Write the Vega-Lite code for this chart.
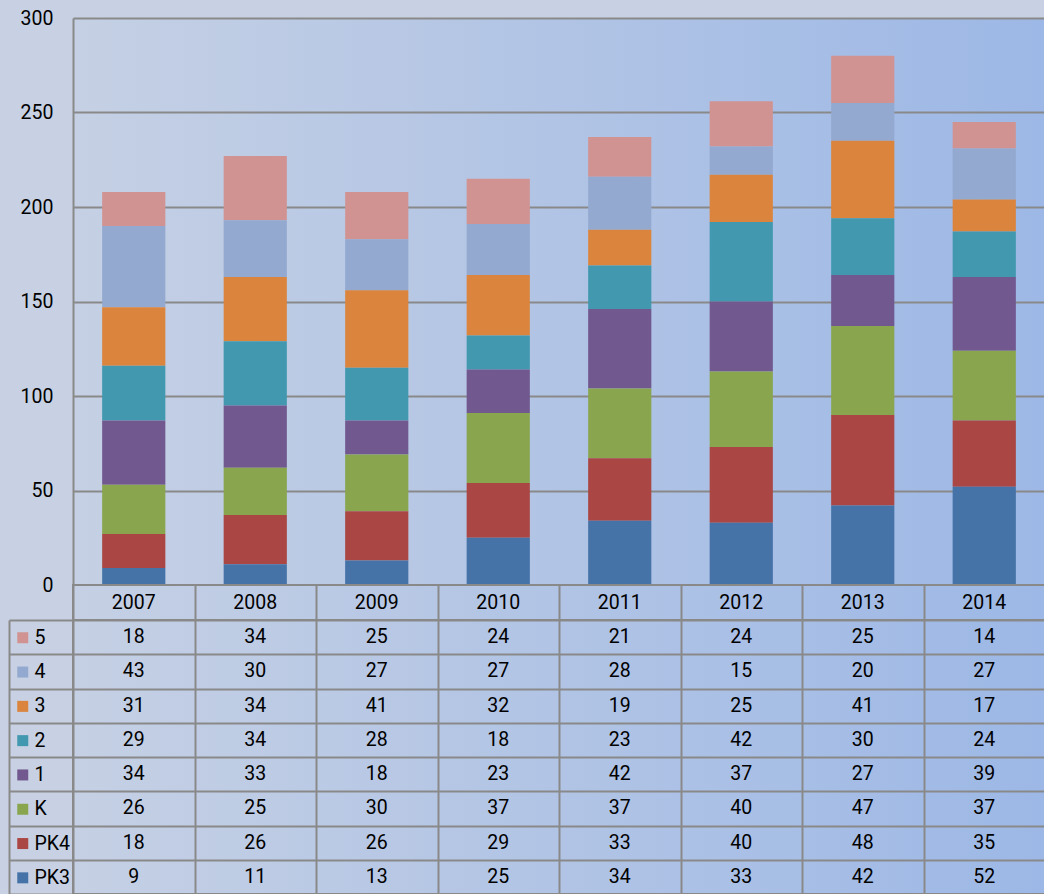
{
  "$schema": "https://vega.github.io/schema/vega-lite/v6.json",
  "background": "#c7d1e3",
  "padding": {"left": 7, "top": 8, "right": 0, "bottom": 0},
  "spacing": 0,
  "bounds": "flush",
  "config": {
    "font": "Roboto",
    "view": {
      "stroke": null,
      "fill": {"gradient": "linear", "x1": 0, "y1": 0, "x2": 1, "y2": 0,
        "stops": [{"offset": 0, "color": "#c5d0e4"}, {"offset": 1, "color": "#9db8e6"}]}
    },
    "text": {"font": "Roboto"}
  },
  "datasets": {
    "d": [
      {"year": "2007", "s": "5", "i": 7, "v": 18}, {"year": "2008", "s": "5", "i": 7, "v": 34}, {"year": "2009", "s": "5", "i": 7, "v": 25}, {"year": "2010", "s": "5", "i": 7, "v": 24}, {"year": "2011", "s": "5", "i": 7, "v": 21}, {"year": "2012", "s": "5", "i": 7, "v": 24}, {"year": "2013", "s": "5", "i": 7, "v": 25}, {"year": "2014", "s": "5", "i": 7, "v": 14},
      {"year": "2007", "s": "4", "i": 6, "v": 43}, {"year": "2008", "s": "4", "i": 6, "v": 30}, {"year": "2009", "s": "4", "i": 6, "v": 27}, {"year": "2010", "s": "4", "i": 6, "v": 27}, {"year": "2011", "s": "4", "i": 6, "v": 28}, {"year": "2012", "s": "4", "i": 6, "v": 15}, {"year": "2013", "s": "4", "i": 6, "v": 20}, {"year": "2014", "s": "4", "i": 6, "v": 27},
      {"year": "2007", "s": "3", "i": 5, "v": 31}, {"year": "2008", "s": "3", "i": 5, "v": 34}, {"year": "2009", "s": "3", "i": 5, "v": 41}, {"year": "2010", "s": "3", "i": 5, "v": 32}, {"year": "2011", "s": "3", "i": 5, "v": 19}, {"year": "2012", "s": "3", "i": 5, "v": 25}, {"year": "2013", "s": "3", "i": 5, "v": 41}, {"year": "2014", "s": "3", "i": 5, "v": 17},
      {"year": "2007", "s": "2", "i": 4, "v": 29}, {"year": "2008", "s": "2", "i": 4, "v": 34}, {"year": "2009", "s": "2", "i": 4, "v": 28}, {"year": "2010", "s": "2", "i": 4, "v": 18}, {"year": "2011", "s": "2", "i": 4, "v": 23}, {"year": "2012", "s": "2", "i": 4, "v": 42}, {"year": "2013", "s": "2", "i": 4, "v": 30}, {"year": "2014", "s": "2", "i": 4, "v": 24},
      {"year": "2007", "s": "1", "i": 3, "v": 34}, {"year": "2008", "s": "1", "i": 3, "v": 33}, {"year": "2009", "s": "1", "i": 3, "v": 18}, {"year": "2010", "s": "1", "i": 3, "v": 23}, {"year": "2011", "s": "1", "i": 3, "v": 42}, {"year": "2012", "s": "1", "i": 3, "v": 37}, {"year": "2013", "s": "1", "i": 3, "v": 27}, {"year": "2014", "s": "1", "i": 3, "v": 39},
      {"year": "2007", "s": "K", "i": 2, "v": 26}, {"year": "2008", "s": "K", "i": 2, "v": 25}, {"year": "2009", "s": "K", "i": 2, "v": 30}, {"year": "2010", "s": "K", "i": 2, "v": 37}, {"year": "2011", "s": "K", "i": 2, "v": 37}, {"year": "2012", "s": "K", "i": 2, "v": 40}, {"year": "2013", "s": "K", "i": 2, "v": 47}, {"year": "2014", "s": "K", "i": 2, "v": 37},
      {"year": "2007", "s": "PK4", "i": 1, "v": 18}, {"year": "2008", "s": "PK4", "i": 1, "v": 26}, {"year": "2009", "s": "PK4", "i": 1, "v": 26}, {"year": "2010", "s": "PK4", "i": 1, "v": 29}, {"year": "2011", "s": "PK4", "i": 1, "v": 33}, {"year": "2012", "s": "PK4", "i": 1, "v": 40}, {"year": "2013", "s": "PK4", "i": 1, "v": 48}, {"year": "2014", "s": "PK4", "i": 1, "v": 35},
      {"year": "2007", "s": "PK3", "i": 0, "v": 9}, {"year": "2008", "s": "PK3", "i": 0, "v": 11}, {"year": "2009", "s": "PK3", "i": 0, "v": 13}, {"year": "2010", "s": "PK3", "i": 0, "v": 25}, {"year": "2011", "s": "PK3", "i": 0, "v": 34}, {"year": "2012", "s": "PK3", "i": 0, "v": 33}, {"year": "2013", "s": "PK3", "i": 0, "v": 42}, {"year": "2014", "s": "PK3", "i": 0, "v": 52}
    ]
  },
  "resolve": {"scale": {"x": "independent", "y": "independent"}},
  "vconcat": [
    {
      "width": 972,
      "height": 567,
      "data": {"name": "d"},
      "mark": {"type": "bar"},
      "encoding": {
        "x": {"field": "year", "type": "nominal", "scale": {"paddingInner": 0.48, "paddingOuter": 0.24}, "axis": null},
        "y": {"field": "v", "type": "quantitative", "stack": "zero", "scale": {"domain": [0, 300]},
          "axis": {"values": [0, 50, 100, 150, 200, 250, 300], "title": null, "grid": true, "gridColor": "#898989", "gridWidth": 2,
            "domainColor": "#898989", "domainWidth": 2, "ticks": false, "labelPadding": 20, "labelFontSize": 19.5, "labelColor": "#000000"}},
        "color": {"field": "s", "type": "nominal",
          "scale": {"domain": ["5", "4", "3", "2", "1", "K", "PK4", "PK3"],
            "range": ["#d19392", "#93a9cf", "#db843d", "#4198af", "#71588f", "#89a54e", "#aa4643", "#4572a7"]},
          "legend": {"orient": "none", "legendX": -60, "legendY": 610, "title": null, "symbolType": "square", "symbolSize": 121,
            "symbolStrokeWidth": 0, "labelFontSize": 19.5, "labelColor": "#000000", "labelOffset": 2, "rowPadding": 13.3, "padding": 0}},
        "order": {"field": "i", "type": "quantitative", "sort": "ascending"}
      }
    },
    {
      "width": 972,
      "height": 35,
      "view": {"stroke": "#898989", "strokeWidth": 2},
      "data": {"name": "d"},
      "transform": [{"aggregate": [{"op": "count", "as": "n"}], "groupby": ["year"]}],
      "mark": {"type": "text", "fontSize": 19.5, "color": "#000000", "baseline": "middle"},
      "encoding": {
        "x": {"field": "year", "type": "nominal", "scale": {"paddingInner": 0, "paddingOuter": 0},
          "axis": {"tickBand": "extent", "grid": true, "gridColor": "#898989", "gridWidth": 2, "labels": false, "ticks": false, "domain": false, "title": null}},
        "text": {"field": "year"}
      }
    },
    {
      "width": 972,
      "height": 274,
      "view": {"stroke": "#898989", "strokeWidth": 2},
      "data": {"name": "d"},
      "mark": {"type": "text", "fontSize": 19.5, "color": "#000000", "baseline": "middle"},
      "encoding": {
        "x": {"field": "year", "type": "nominal", "scale": {"paddingInner": 0, "paddingOuter": 0},
          "axis": {"tickBand": "extent", "grid": true, "gridColor": "#898989", "gridWidth": 2, "labels": false, "ticks": false, "domain": false, "title": null}},
        "y": {"field": "s", "type": "nominal", "sort": ["5", "4", "3", "2", "1", "K", "PK4", "PK3"], "scale": {"paddingInner": 0, "paddingOuter": 0},
          "axis": {"tickBand": "extent", "offset": 64, "tickSize": -64, "tickColor": "#898989", "tickWidth": 2, "domainColor": "#898989", "domainWidth": 2,
            "grid": true, "gridColor": "#898989", "gridWidth": 2, "labels": false, "title": null}},
        "text": {"field": "v", "type": "quantitative"}
      }
    }
  ]
}
